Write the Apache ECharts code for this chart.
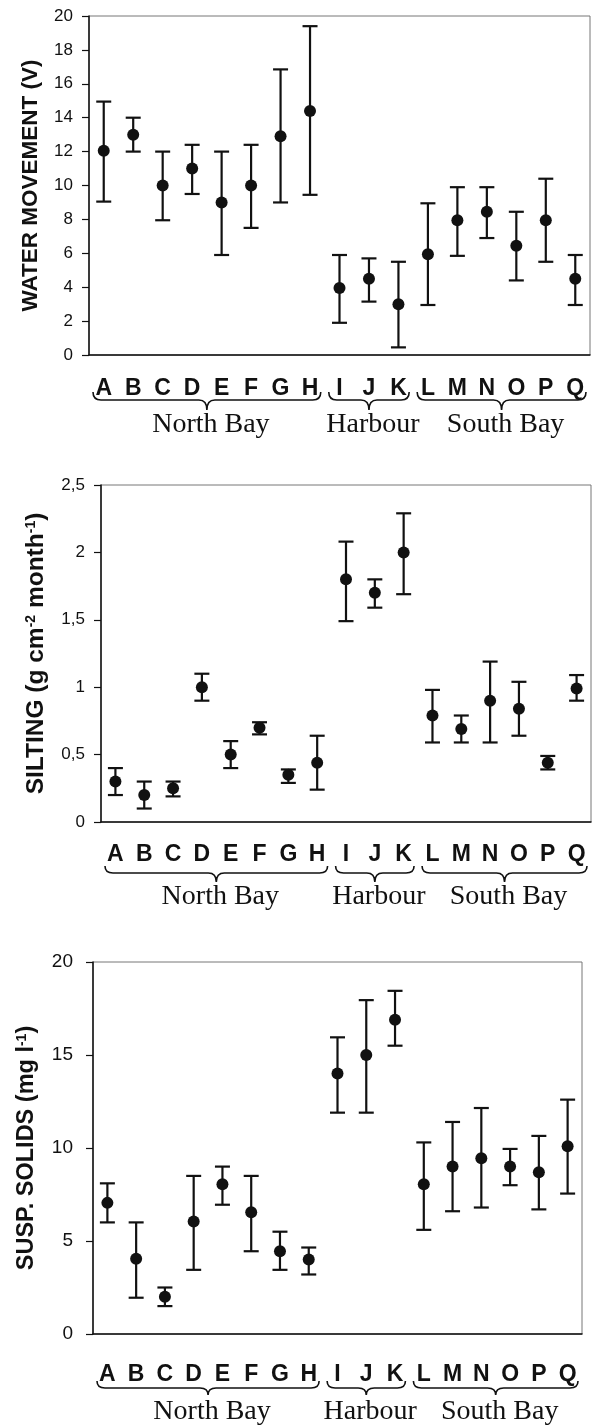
<!DOCTYPE html>
<html>
<head>
<meta charset="utf-8">
<script src="https://cdn.jsdelivr.net/npm/echarts@6/dist/echarts.min.js"></script>
<style>
  html, body { margin: 0; padding: 0; background: #fff; }
  #main { width: 593px; height: 1425px; }
</style>
</head>
<body>
<div id="main"></div>
<script>
var categories = ['A','B','C','D','E','F','G','H','I','J','K','L','M','N','O','P','Q'];

// water movement (V)
var wmMean = [12.05, 13, 10, 11, 9, 10, 12.9, 14.4, 3.95, 4.5, 3, 5.95, 7.95, 8.45, 6.45, 7.95, 4.5];
var wmLow  = [9.05, 12, 7.95, 9.5, 5.9, 7.5, 9, 9.45, 1.9, 3.15, 0.45, 2.95, 5.85, 6.9, 4.4, 5.5, 2.95];
var wmHigh = [14.95, 14, 12, 12.4, 12, 12.4, 16.85, 19.4, 5.9, 5.7, 5.5, 8.95, 9.9, 9.9, 8.45, 10.4, 5.9];

// silting (g cm-2 month-1)
var siMean = [0.3, 0.2, 0.25, 1.0, 0.5, 0.7, 0.35, 0.44, 1.8, 1.7, 2.0, 0.79, 0.69, 0.9, 0.84, 0.44, 0.99];
var siLow  = [0.2, 0.1, 0.19, 0.9, 0.4, 0.65, 0.29, 0.24, 1.49, 1.59, 1.69, 0.59, 0.59, 0.59, 0.64, 0.39, 0.9];
var siHigh = [0.4, 0.3, 0.3, 1.1, 0.6, 0.74, 0.39, 0.64, 2.08, 1.8, 2.29, 0.98, 0.79, 1.19, 1.04, 0.49, 1.09];

// suspended solids (mg l-1)
var ssMean = [7.05, 4.05, 2, 6.05, 8.05, 6.55, 4.45, 4, 14, 15, 16.9, 8.05, 9, 9.45, 9, 8.7, 10.1];
var ssLow  = [6, 1.95, 1.5, 3.45, 6.95, 4.45, 3.45, 3.2, 11.9, 11.9, 15.5, 5.6, 6.6, 6.8, 8, 6.7, 7.55];
var ssHigh = [8.1, 6, 2.5, 8.5, 9, 8.5, 5.5, 4.65, 15.95, 17.95, 18.45, 10.3, 11.4, 12.15, 9.95, 10.65, 12.6];

var groupNames = ['North Bay', 'Harbour', 'South Bay'];
var groupStart = [0, 8, 11];
var groupEnd   = [7, 10, 16];

var INK = '#111';
var SANS = 'Liberation Sans';
var SERIF = 'Liberation Serif';

var myChart = echarts.init(document.getElementById('main'));

var panels = [
    { top: 16, left: 89, right: 3, height: 339, max: 20, interval: 2,
      name: 'WATER MOVEMENT (V)', nameSize: 22.5, nameGap: 47, tickSize: 17, labelMargin: 16, catMargin: 22,
      braceTop: 37, braceLine: 8, braceTip: 18, textTop: 56, mean: wmMean, low: wmLow, high: wmHigh },
    { top: 485, left: 101, right: 2, height: 337, max: 2.5, interval: 0.5,
      name: 'SILTING (g cm{sup|-2} month{sup|-1})', nameSize: 24.5, nameGap: 52, tickSize: 17, labelMargin: 16, catMargin: 21,
      braceTop: 44, braceLine: 7, braceTip: 16, textTop: 61, mean: siMean, low: siLow, high: siHigh },
    { top: 962, left: 93, right: 11, height: 372, max: 20, interval: 5,
      name: 'SUSP. SOLIDS (mg l{sup|-1})', nameSize: 23.5, nameGap: 54, tickSize: 19, labelMargin: 20, catMargin: 29,
      braceTop: 47, braceLine: 7, braceTip: 14, textTop: 64, mean: ssMean, low: ssLow, high: ssHigh }
];

function errorBar(params, api) {
    var x = api.value(0);
    var lo = api.coord([x, api.value(1)]);
    var hi = api.coord([x, api.value(2)]);
    var half = 7.5;
    var st = { stroke: INK, lineWidth: 2.2 };
    return {
        type: 'group',
        children: [
            { type: 'line', shape: { x1: lo[0], y1: lo[1], x2: hi[0], y2: hi[1] }, style: st },
            { type: 'line', shape: { x1: lo[0] - half, y1: lo[1], x2: lo[0] + half, y2: lo[1] }, style: st },
            { type: 'line', shape: { x1: hi[0] - half, y1: hi[1], x2: hi[0] + half, y2: hi[1] }, style: st }
        ]
    };
}

function braceRenderer(p) {
    return function (params, api) {
        var band = api.size([1, 0])[0];
        var a = api.coord([api.value(0), 0]);
        var b = api.coord([api.value(1), 0]);
        var x1 = a[0] - band / 2 + 4, x2 = b[0] + band / 2 - 4;
        var xm = (x1 + x2) / 2;
        var y0 = a[1] + p.braceTop, y1 = y0 + p.braceLine, y2 = y0 + p.braceTip, r = 8;
        var d = 'M' + x1 + ' ' + y0 + ' Q' + x1 + ' ' + y1 + ' ' + (x1 + r) + ' ' + y1 +
                ' L' + (xm - r) + ' ' + y1 + ' Q' + xm + ' ' + y1 + ' ' + xm + ' ' + y2 +
                ' Q' + xm + ' ' + y1 + ' ' + (xm + r) + ' ' + y1 +
                ' L' + (x2 - r) + ' ' + y1 + ' Q' + x2 + ' ' + y1 + ' ' + x2 + ' ' + y0;
        return {
            type: 'group',
            children: [
                { type: 'path', shape: { pathData: d }, style: { stroke: INK, lineWidth: 1.6, fill: null } },
                { type: 'text', x: xm + 4, y: a[1] + p.textTop,
                  style: { text: groupNames[params.dataIndex], fontFamily: SERIF, fontSize: 28,
                           fill: INK, align: 'center', verticalAlign: 'top' } }
            ]
        };
    };
}

var grids = [], xAxes = [], yAxes = [], series = [];

panels.forEach(function (p, k) {
    grids.push({ left: p.left, right: p.right, top: p.top, height: p.height,
                 show: true, borderColor: '#777', borderWidth: 1 });
    xAxes.push({
        type: 'category', gridIndex: k, data: categories,
        axisLine: { lineStyle: { color: INK, width: 1.5 } },
        axisTick: { length: 7, lineStyle: { color: INK, width: 1.5 } },
        axisLabel: { margin: p.catMargin, color: INK, fontFamily: SANS, fontWeight: 'bold', fontSize: 23 }
    });
    yAxes.push({
        type: 'value', gridIndex: k, min: 0, max: p.max, interval: p.interval,
        splitLine: { show: false },
        axisLine: { show: true, lineStyle: { color: INK, width: 1.5 } },
        axisTick: { show: true, length: 7, lineStyle: { color: INK, width: 1.2 } },
        axisLabel: { margin: p.labelMargin, color: INK, fontFamily: SANS, fontSize: p.tickSize,
                     formatter: function (v) { return String(v).replace('.', ','); } },
        name: p.name, nameLocation: 'middle', nameGap: p.nameGap,
        nameTextStyle: { color: INK, fontFamily: SANS, fontWeight: 'bold', fontSize: p.nameSize,
                         rich: { sup: { fontFamily: SANS, fontWeight: 'bold', fontSize: 14, verticalAlign: 'top' } } }
    });
    series.push({
        type: 'custom', xAxisIndex: k, yAxisIndex: k, renderItem: errorBar,
        data: categories.map(function (c, i) { return [i, p.low[i], p.high[i]]; }),
        encode: { x: 0, y: [1, 2] }, z: 2
    });
    series.push({
        type: 'scatter', xAxisIndex: k, yAxisIndex: k, symbolSize: 12,
        itemStyle: { color: INK, opacity: 1 }, data: p.mean, z: 3
    });
    series.push({
        type: 'custom', xAxisIndex: k, yAxisIndex: k, clip: false, silent: true,
        renderItem: braceRenderer(p),
        data: groupNames.map(function (g, i) { return [groupStart[i], groupEnd[i]]; }),
        encode: { x: [0, 1] }
    });
});

myChart.setOption({
    animation: false,
    grid: grids,
    xAxis: xAxes,
    yAxis: yAxes,
    series: series
});
</script>
</body>
</html>
